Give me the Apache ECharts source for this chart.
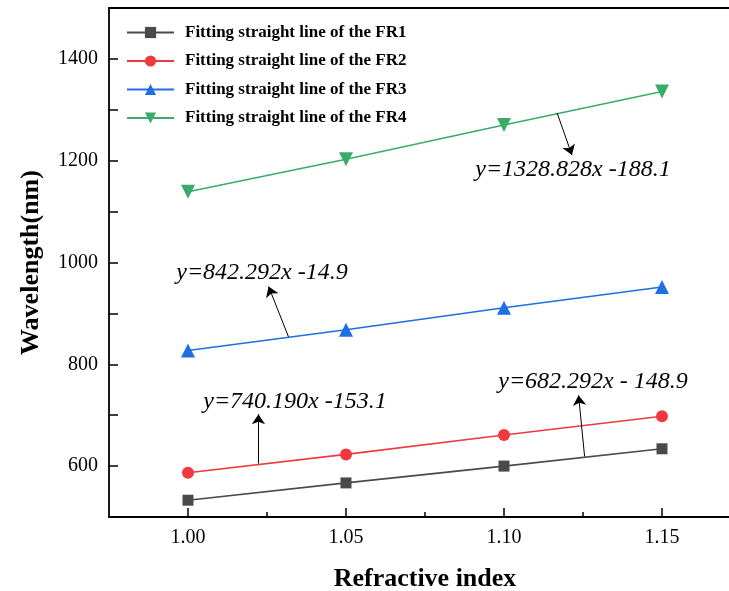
<!DOCTYPE html>
<html>
<head>
<meta charset="utf-8">
<script src="https://cdn.jsdelivr.net/npm/echarts@6/dist/echarts.min.js"></script>
<style>
html, body { margin: 0; padding: 0; background: #fff; }
#main { width: 729px; height: 591px; }
</style>
</head>
<body>
<div id="main"></div>
<script>
// refractive index on x, wavelength (nm) on y
const refractiveIndex = [1.00, 1.05, 1.10, 1.15];
const fr1 = [533, 567, 600, 634];
const fr2 = [587, 623, 661, 698];
const fr3 = [827, 868, 911, 952];
const fr4 = [1139, 1203, 1270, 1336];
const seriesNames = [
    'Fitting straight line of the FR1',
    'Fitting straight line of the FR2',
    'Fitting straight line of the FR3',
    'Fitting straight line of the FR4'
];
const xTickLabels = [1.00, 1.05, 1.10, 1.15];
const xMinorTicks = [1.025, 1.075, 1.125];
const yTickLabels = [600, 800, 1000, 1200, 1400];
const equations = ['y=682.292x - 148.9', 'y=740.190x -153.1', 'y=842.292x -14.9', 'y=1328.828x -188.1'];
// arrows from each fitted line to its equation, [from, to] in data units
const arrows = [
    [[1.1255, 619], [1.1236, 739]],
    [[1.0223, 605], [1.0223, 702]],
    [[1.0318, 854], [1.0255, 953]],
    [[1.1168, 1294], [1.1215, 1211]]
];

const serif = 'Liberation Serif, Times New Roman, serif';
const colors = ['#4a4a4a', '#f0393f', '#1f6fe0', '#3aab68'];
const symbols = ['rect', 'circle', 'triangle', 'triangle'];
const symbolSizes = [11, 12, 14, 14];
const rotates = [0, 0, 0, 180];
const values = [fr1, fr2, fr3, fr4];
// equation text centres (px)
const textPos = [[593, 382], [295, 402], [262, 273], [573, 170]];

let chart = echarts.init(document.getElementById('main'));

let series = values.map(function (v, i) {
    return {
        name: seriesNames[i],
        type: 'line',
        data: refractiveIndex.map(function (x, j) { return [x, v[j]]; }),
        symbol: symbols[i],
        symbolSize: symbolSizes[i],
        symbolRotate: rotates[i],
        showSymbol: true,
        lineStyle: { color: colors[i], width: 1.6 },
        itemStyle: { color: colors[i] },
        markLine: {
            silent: true,
            symbol: ['none', 'arrow'],
            symbolSize: 10,
            lineStyle: { color: '#000', width: 1, type: 'solid' },
            itemStyle: { color: '#000' },
            label: { show: false },
            data: [[{ coord: arrows[i][0] }, { coord: arrows[i][1] }]]
        }
    };
});

let option = {
    animation: false,
    color: colors,
    grid: { left: 109, top: 8, right: -12, bottom: 74, outerBoundsMode: 'none' },
    legend: {
        orient: 'vertical',
        left: 121,
        top: 19,
        itemWidth: 47,
        itemHeight: 14,
        itemGap: 11.5,
        data: seriesNames,
        textStyle: { fontFamily: serif, fontWeight: 'bold', fontSize: 17, color: '#000', padding: [0, 0, 0, 6] }
    },
    xAxis: [
        {
            type: 'value',
            position: 'bottom',
            min: 0.975,
            max: 1.175,
            axisLine: { lineStyle: { color: '#000', width: 1.8 } },
            axisTick: { inside: true, length: 9, customValues: xTickLabels, lineStyle: { color: '#000', width: 1.5 } },
            axisLabel: {
                customValues: xTickLabels,
                margin: 11,
                fontFamily: serif, fontSize: 20, color: '#000',
                formatter: function (v) { return v.toFixed(2); }
            },
            splitLine: { show: false },
            name: 'Refractive index',
            nameLocation: 'middle',
            nameGap: 49,
            nameTextStyle: { fontFamily: serif, fontWeight: 'bold', fontSize: 26, color: '#000' }
        },
        {
            type: 'value',
            position: 'bottom',
            min: 0.975,
            max: 1.175,
            axisLine: { show: false },
            axisTick: { inside: true, length: 5, customValues: xMinorTicks, lineStyle: { color: '#000', width: 1.5 } },
            axisLabel: { show: false },
            splitLine: { show: false }
        },
        {
            type: 'value',
            position: 'top',
            min: 0.975,
            max: 1.175,
            axisLine: { lineStyle: { color: '#000', width: 1.8 } },
            axisTick: { show: false },
            axisLabel: { show: false },
            splitLine: { show: false }
        }
    ],
    yAxis: [
        {
            type: 'value',
            min: 500,
            max: 1500,
            interval: 100,
            axisLine: { show: true, lineStyle: { color: '#000', width: 1.8 } },
            axisTick: { show: true, inside: true, length: 9, lineStyle: { color: '#000', width: 1.5 } },
            axisLabel: {
                customValues: yTickLabels,
                margin: 11,
                fontFamily: serif, fontSize: 20, color: '#000',
                formatter: function (v) { return String(v); }
            },
            splitLine: { show: false },
            name: 'Wavelength(nm)',
            nameLocation: 'middle',
            nameGap: 65,
            nameTextStyle: { fontFamily: serif, fontWeight: 'bold', fontSize: 26, color: '#000' }
        }
    ],
    graphic: equations.map(function (t, i) {
        return {
            type: 'text',
            x: textPos[i][0],
            y: textPos[i][1],
            style: {
                text: t,
                fontFamily: serif,
                fontStyle: 'italic',
                fontSize: 24,
                fill: '#000',
                textAlign: 'center',
                textVerticalAlign: 'middle'
            }
        };
    }),
    series: series
};

chart.setOption(option);
</script>
</body>
</html>
